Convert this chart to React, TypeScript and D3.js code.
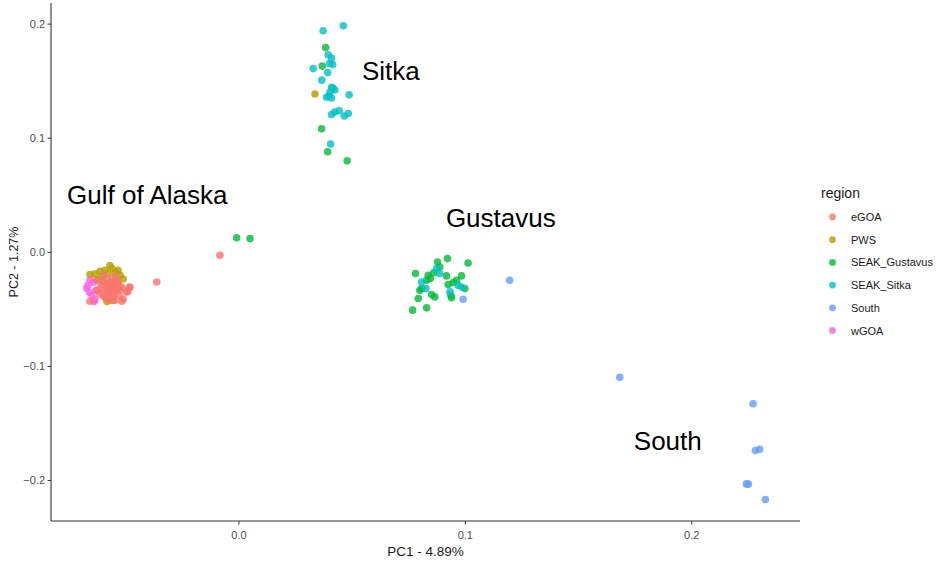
import React from 'react';
import * as d3 from 'd3';

type Pt = [number, number];

const regions = ['eGOA', 'PWS', 'SEAK_Gustavus', 'SEAK_Sitka', 'South', 'wGOA'];
const regionColors = ['#F8766D', '#B79F00', '#00BA38', '#00BFC4', '#619CFF', '#F564E3'];

const pwsPoints: Pt[] = [
  [-0.0570, -0.0116], [-0.0614, -0.0166], [-0.0658, -0.0196], [-0.0636, -0.0190],
  [-0.0511, -0.0234], [-0.0583, -0.0431], [-0.0592, -0.0157], [-0.0547, -0.0175],
  [-0.0561, -0.0140], [-0.0605, -0.0210], [-0.0525, -0.0201], [-0.0578, -0.0184],
  [-0.0627, -0.0236], [-0.0534, -0.0157], [-0.0556, -0.0420], [-0.0600, -0.0250],
  [-0.0543, -0.0245], [0.0336, 0.1388],
];

const wgoaPoints: Pt[] = [
  [-0.0672, -0.0315], [-0.0661, -0.0350], [-0.0643, -0.0262], [-0.0640, -0.0431],
  [-0.0658, -0.0245], [-0.0667, -0.0289], [-0.0649, -0.0376], [-0.0631, -0.0332],
  [-0.0636, -0.0415],
];

const egoaPoints: Pt[] = [
  [-0.0570, -0.0306], [-0.0592, -0.0271], [-0.0547, -0.0289], [-0.0578, -0.0350],
  [-0.0561, -0.0227], [-0.0534, -0.0262], [-0.0605, -0.0315], [-0.0614, -0.0367],
  [-0.0552, -0.0385], [-0.0525, -0.0332], [-0.0587, -0.0402], [-0.0623, -0.0245],
  [-0.0543, -0.0210], [-0.0517, -0.0306], [-0.0596, -0.0201], [-0.0570, -0.0420],
  [-0.0481, -0.0306], [-0.0496, -0.0350], [-0.0511, -0.0411], [-0.0658, -0.0429],
  [-0.0518, -0.0429], [-0.0484, -0.0306], [-0.0490, -0.0341], [-0.0627, -0.0332],
  [-0.0578, -0.0280], [-0.0565, -0.0324], [-0.0556, -0.0262], [-0.0600, -0.0350],
  [-0.0530, -0.0376], [-0.0583, -0.0236], [-0.0539, -0.0324], [-0.0609, -0.0280],
  [-0.0574, -0.0376], [-0.0547, -0.0420], [-0.0565, -0.0289], [-0.0583, -0.0315],
  [-0.0552, -0.0341], [-0.0596, -0.0385], [-0.0530, -0.0289], [-0.0561, -0.0367],
  [-0.0084, -0.0026], [-0.0363, -0.0260],
];

const gustavusPoints: Pt[] = [
  [0.0921, -0.0055], [0.0877, -0.0085], [0.1012, -0.0094], [0.0887, -0.0129],
  [0.0780, -0.0186], [0.0836, -0.0201], [0.0917, -0.0207], [0.0983, -0.0207],
  [0.0829, -0.0245], [0.0961, -0.0245], [0.0946, -0.0265], [0.0924, -0.0283],
  [0.0807, -0.0318], [0.0998, -0.0318], [0.0799, -0.0332], [0.0851, -0.0370],
  [0.0865, -0.0391], [0.0936, -0.0376], [0.0939, -0.0398], [0.0792, -0.0405],
  [0.0829, -0.0487], [0.0767, -0.0507], [0.0845, -0.0230], [0.0860, -0.0180],
  [-0.0010, 0.0128], [0.0049, 0.0120],
  [0.0383, 0.1794], [0.0368, 0.1632], [0.0365, 0.1082], [0.0392, 0.0881], [0.0478, 0.0803],
];

const sitkaPoints: Pt[] = [
  [0.0461, 0.1986], [0.0372, 0.1942], [0.0394, 0.1732], [0.0409, 0.1702],
  [0.0414, 0.1645], [0.0328, 0.1610], [0.0392, 0.1575], [0.0366, 0.1509],
  [0.0409, 0.1446], [0.0424, 0.1422], [0.0402, 0.1402], [0.0487, 0.1380],
  [0.0387, 0.1359], [0.0409, 0.1352], [0.0398, 0.1370], [0.0409, 0.1207],
  [0.0424, 0.1229], [0.0443, 0.1242], [0.0465, 0.1194], [0.0483, 0.1216],
  [0.0405, 0.0949], [0.0400, 0.1655], [0.0415, 0.1440],
  [0.0873, -0.0143], [0.0887, -0.0186], [0.0807, -0.0260], [0.0826, -0.0318],
  [0.0968, -0.0289], [0.0983, -0.0304], [0.0932, -0.0347],
];

const southPoints: Pt[] = [
  [0.0990, -0.0411], [0.1196, -0.0245], [0.1682, -0.1096], [0.2271, -0.1327],
  [0.2281, -0.1738], [0.2300, -0.1726], [0.2241, -0.2030], [0.2250, -0.2032],
  [0.2325, -0.2167],
];

const xTicks = [0.0, 0.1, 0.2];
const yTicks = [-0.2, -0.1, 0.0, 0.1, 0.2];

const annotationLabels = ['Gulf of Alaska', 'Sitka', 'Gustavus', 'South'];
const annotationX = [-0.0759, 0.0543, 0.0914, 0.1744];
const annotationY = [0.0420, 0.1514, 0.0219, -0.1732];

const xTitle = 'PC1 - 4.89%';
const yTitle = 'PC2 - 1.27%';
const legendTitle = 'region';

// draw order (later on top)
const layers: { region: string; pts: Pt[] }[] = [
  { region: 'PWS', pts: pwsPoints },
  { region: 'wGOA', pts: wgoaPoints },
  { region: 'eGOA', pts: egoaPoints },
  { region: 'SEAK_Gustavus', pts: gustavusPoints },
  { region: 'SEAK_Sitka', pts: sitkaPoints },
  { region: 'South', pts: southPoints },
];

export default function App() {
  const W = 937, H = 562;
  const left = 51, right = 800, top = 3, bottom = 521;
  const x = d3.scaleLinear().domain([-0.083, 0.2478]).range([left, right]);
  const y = d3.scaleLinear().domain([-0.2355, 0.2185]).range([bottom, top]);
  const color = d3.scaleOrdinal<string, string>().domain(regions).range(regionColors);
  const fmt = d3.format('.1f');
  const font = 'Liberation Sans, Arial, sans-serif';

  return (
    <svg width={W} height={H} style={{ position: 'fixed', left: 0, top: 0, background: '#fff' }}
      fontFamily={font}>
      <rect x={0} y={0} width={W} height={H} fill="#fff" />
      {/* points */}
      <g>
        {layers.map((l) =>
          l.pts.map((p, i) => (
            <circle key={l.region + i} cx={x(p[0])} cy={y(p[1])} r={3.8}
              fill={color(l.region)} fillOpacity={0.8} />
          ))
        )}
      </g>
      {/* axes */}
      <line x1={left} x2={left} y1={top} y2={bottom} stroke="#333" strokeWidth={1.1} />
      <line x1={left} x2={right} y1={bottom} y2={bottom} stroke="#333" strokeWidth={1.1} />
      {xTicks.map((t) => (
        <g key={'xt' + t}>
          <line x1={x(t)} x2={x(t)} y1={bottom} y2={bottom + 3.5} stroke="#333" strokeWidth={1} />
          <text x={x(t)} y={bottom + 18} textAnchor="middle" fontSize={11} fill="#4D4D4D">{fmt(t)}</text>
        </g>
      ))}
      {yTicks.map((t) => (
        <g key={'yt' + t}>
          <line x1={left - 3.5} x2={left} y1={y(t)} y2={y(t)} stroke="#333" strokeWidth={1} />
          <text x={left - 6} y={y(t) + 4} textAnchor="end" fontSize={11} fill="#4D4D4D">{fmt(t)}</text>
        </g>
      ))}
      <text x={(left + right) / 2} y={556} textAnchor="middle" fontSize={13.5} fill="#1a1a1a">{xTitle}</text>
      <text transform={`translate(18, ${(top + bottom) / 2}) rotate(-90)`} textAnchor="middle"
        fontSize={12.5} fill="#1a1a1a">{yTitle}</text>
      {/* annotations */}
      {annotationLabels.map((s, i) => (
        <text key={s} x={x(annotationX[i])} y={y(annotationY[i])} fontSize={26} fill="#000">{s}</text>
      ))}
      {/* legend */}
      <text x={821} y={198} fontSize={14} fill="#1a1a1a">{legendTitle}</text>
      {regions.map((r, i) => (
        <g key={'lg' + r}>
          <circle cx={832.5} cy={217 + i * 22.7} r={3.4} fill={color(r)} fillOpacity={0.8} />
          <text x={851} y={217 + i * 22.7 + 4} fontSize={11} fill="#1a1a1a">{r}</text>
        </g>
      ))}
    </svg>
  );
}
